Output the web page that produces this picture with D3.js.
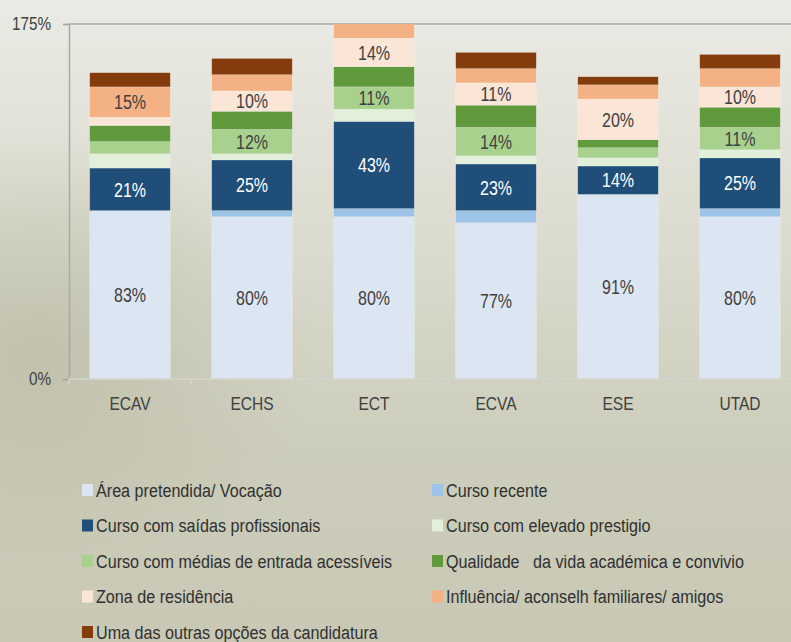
<!DOCTYPE html>
<html>
<head>
<meta charset="utf-8">
<script src="https://cdn.jsdelivr.net/npm/d3@7"></script>
<style>
  html, body { margin: 0; padding: 0; }
  body { width: 791px; height: 642px; overflow: hidden; }
  svg text { font-family: "Liberation Sans", Arial, sans-serif; }
</style>
</head>
<body>
<div class="canvas"></div>
<script>
const size = {'width': 791, 'height': 642};
const margin = {'left': 69, 'top': 24, 'bottom': 263};

// categories (schools)
const categories = ['ECAV', 'ECHS', 'ECT', 'ECVA', 'ESE', 'UTAD'];

// series names, bottom of the stack first
const seriesNames = [
  'Área pretendida/ Vocação',
  'Curso recente',
  'Curso com saídas profissionais',
  'Curso com elevado prestigio',
  'Curso com médias de entrada acessíveis',
  'Qualidade   da vida académica e convivio',
  'Zona de residência',
  'Influência/ aconselh familiares/ amigos',
  'Uma das outras opções da candidatura'
];

// values per series, in category order (%)
const area       = [83, 80, 80, 77, 91, 80];
const recente    = [0, 3, 4, 6, 0, 4];
const saidas     = [21, 25, 43, 23, 14, 25];
const prestigio  = [7, 3, 6, 4, 4, 4];
const medias     = [6, 12, 11, 14, 5, 11];
const qualidade  = [8, 9, 10, 11, 4, 10];
const zona       = [4, 10, 14, 11, 20, 10];
const influencia = [15, 8, 9, 7, 7, 9];
const outras     = [7, 8, 6, 8, 4, 7];

const yTicks = [0, 175];

const colors = ['#dce6f2', '#9dc3e6', '#1f4e79', '#e2efda', '#a9d18e',
                '#609a3c', '#fbe5d6', '#f4b183', '#843c0c'];

const seriesValues = [area, recente, saidas, prestigio, medias, qualidade, zona, influencia, outras];

// table for d3.stack
const table = categories.map((c, i) => {
  const row = {cat: c};
  seriesNames.forEach((s, k) => row[s] = seriesValues[k][i]);
  return row;
});

const svg = d3.select('.canvas')
  .append('svg')
  .attr('width', size.width)
  .attr('height', size.height);

// condensed text: regular face squeezed horizontally
const narrowText = (parent, x, y, str, fontSize, sx, anchor, fill) => {
  const g = parent.append('g').attr('transform', `translate(${x},${y}) scale(${sx},1)`);
  g.append('text')
    .attr('dy', '0.36em')
    .attr('text-anchor', anchor)
    .attr('font-size', fontSize)
    .attr('fill', fill)
    .attr('xml:space', 'preserve')
    .style('white-space', 'pre')
    .text(str);
  return g;
};

// background, a soft grey-beige wash like the photo behind the chart
const defs = svg.append('defs');
const bg = defs.append('linearGradient').attr('id', 'bg')
  .attr('x1', 0).attr('y1', 0).attr('x2', 0).attr('y2', 1);
bg.append('stop').attr('offset', '0%').attr('stop-color', '#ebebe6');
bg.append('stop').attr('offset', '35%').attr('stop-color', '#dcdcd0');
bg.append('stop').attr('offset', '70%').attr('stop-color', '#cdcdbb');
bg.append('stop').attr('offset', '100%').attr('stop-color', '#c8c8b5');
const side = defs.append('radialGradient').attr('id', 'side')
  .attr('cx', 0.05).attr('cy', 0.55).attr('r', 0.35);
side.append('stop').attr('offset', '0%').attr('stop-color', '#b9b9a3').attr('stop-opacity', 0.7);
side.append('stop').attr('offset', '100%').attr('stop-color', '#b9b9a3').attr('stop-opacity', 0);

svg.append('rect').attr('width', size.width).attr('height', size.height).attr('fill', 'url(#bg)');
svg.append('rect').attr('width', size.width).attr('height', size.height).attr('fill', 'url(#side)');

const plotH = size.height - margin.top - margin.bottom;
const step = 122;

const x = d3.scaleBand()
  .domain(categories)
  .range([margin.left, margin.left + step * categories.length])
  .paddingInner(0.34)
  .paddingOuter(0.17);

const y = d3.scaleLinear()
  .domain([0, 175])
  .range([margin.top + plotH, margin.top]);

defs.append('clipPath').attr('id', 'plotclip')
  .append('rect')
  .attr('x', margin.left).attr('y', y(175))
  .attr('width', step * categories.length).attr('height', y(0) - y(175));

// top gridline
svg.append('line')
  .attr('x1', margin.left).attr('x2', size.width)
  .attr('y1', y(175)).attr('y2', y(175))
  .attr('stroke', '#a9a9a6').attr('stroke-width', 1.5);

const stack = d3.stack().keys(seriesNames);
const layers = stack(table);

const graph = svg.append('g').attr('clip-path', 'url(#plotclip)');

const layerG = graph.selectAll('g.layer')
  .data(layers)
  .enter().append('g')
  .attr('class', 'layer')
  .attr('fill', (d, i) => colors[i]);

layerG.selectAll('rect')
  .data(d => d)
  .enter().append('rect')
  .attr('x', d => x(d.data.cat))
  .attr('width', x.bandwidth())
  .attr('y', d => y(d[1]))
  .attr('height', d => y(d[0]) - y(d[1]))
  .attr('stroke', 'rgba(255,255,255,0.35)')
  .attr('stroke-width', 0.6);

// data labels
const noLabel = 'Qualidade   da vida académica e convivio';
layers.forEach((layer, k) => {
  if (layer.key === noLabel) return;
  layer.forEach(d => {
    const v = d[1] - d[0];
    if (v < 10) return;
    narrowText(graph, x(d.data.cat) + x.bandwidth() / 2, (y(d[0]) + y(d[1])) / 2,
      Math.round(v) + '%', 20, 0.8, 'middle', k === 2 ? '#ffffff' : '#404040');
  });
});

// y axis
const yAxis = d3.axisLeft(y)
  .tickValues(yTicks)
  .tickSize(6)
  .tickFormat('');
const yAxisGroup = svg.append('g')
  .attr('transform', `translate(${margin.left},0)`)
  .call(yAxis);
yAxisGroup.select('.domain').attr('stroke', '#a9a9a6').attr('stroke-width', 1.5);
yAxisGroup.selectAll('.tick line').attr('stroke', '#a9a9a6').attr('stroke-width', 1.5);
yTicks.forEach(t => narrowText(svg, margin.left - 18, y(t), t + '%', 18, 0.85, 'end', '#404040'));

// x axis: labels centred, ticks at band boundaries
svg.append('line')
  .attr('x1', margin.left).attr('x2', size.width)
  .attr('y1', y(0)).attr('y2', y(0))
  .attr('stroke', '#d4d4cc').attr('stroke-width', 1.5);
svg.selectAll('line.btick')
  .data(d3.range(categories.length + 1))
  .enter().append('line')
  .attr('class', 'btick')
  .attr('x1', i => margin.left + i * step).attr('x2', i => margin.left + i * step)
  .attr('y1', y(0)).attr('y2', y(0) + 6)
  .attr('stroke', '#d4d4cc').attr('stroke-width', 1.5);
categories.forEach(c => narrowText(svg, x(c) + x.bandwidth() / 2, y(0) + 24, c, 19, 0.82, 'middle', '#404040'));

// legend, two columns
const legend = svg.append('g');
seriesNames.forEach((s, i) => {
  const lx = i % 2 === 0 ? 82 : 432;
  const ly = 490 + Math.floor(i / 2) * 35.5;
  legend.append('rect')
    .attr('x', lx).attr('y', ly - 6)
    .attr('width', 11).attr('height', 12)
    .attr('fill', colors[i]);
  narrowText(legend, lx + 14, ly, s, 19, 0.85, 'start', '#303030');
});
</script>
</body>
</html>
